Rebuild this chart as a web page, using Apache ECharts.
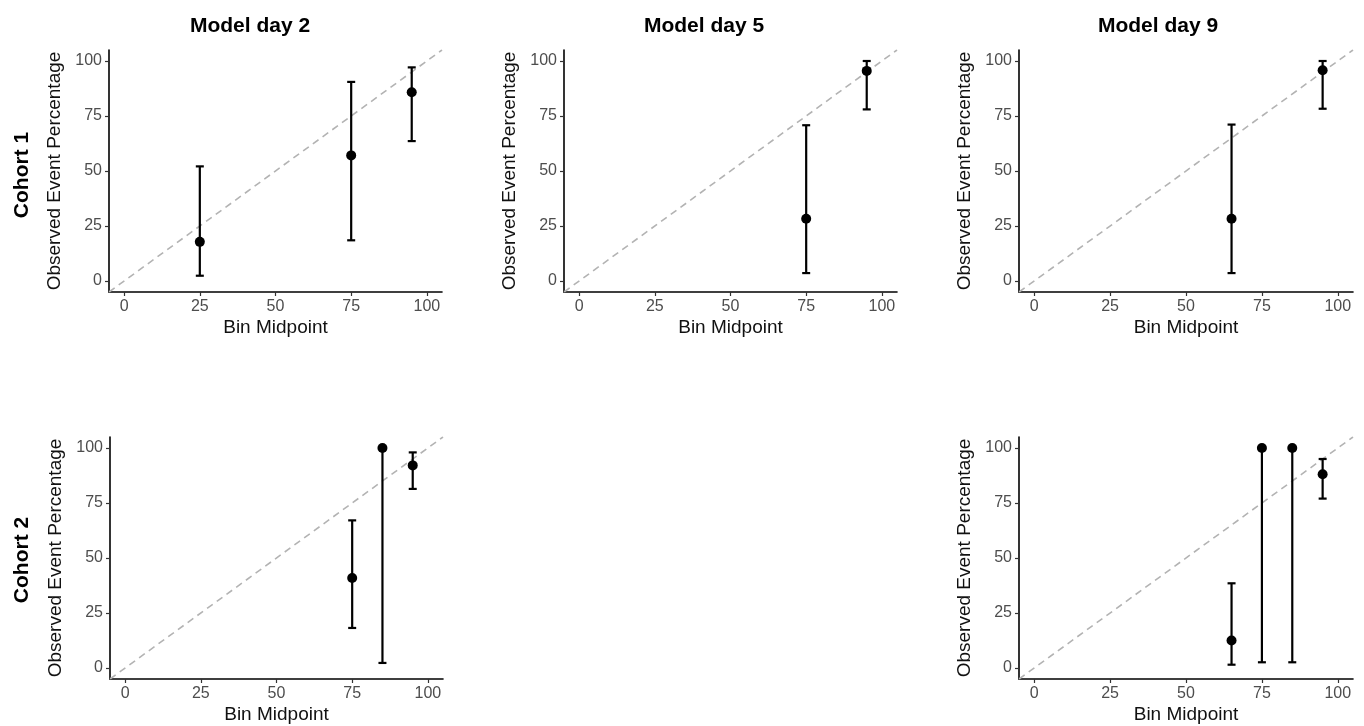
<!DOCTYPE html>
<html>
<head>
<meta charset="utf-8">
<script src="https://cdn.jsdelivr.net/npm/echarts@6/dist/echarts.min.js"></script>
<style>
html,body{margin:0;padding:0;background:#fff;}
#chart{width:1364px;height:726px;}
</style>
</head>
<body>
<div id="chart"></div>
<script>
// ---- Data ----
const colTitles = ['Model day 2', 'Model day 5', 'Model day 9'];
const rowTitles = ['Cohort 1', 'Cohort 2'];
const tickValues = [0, 25, 50, 75, 100];
const xAxisTitle = 'Bin Midpoint';
const yAxisTitle = 'Observed Event Percentage';

// Cohort 1, Model day 2
const c1d2_x  = [25, 75, 95];
const c1d2_y  = [17.8, 57.1, 85.8];
const c1d2_lo = [2.4, 18.5, 63.6];
const c1d2_hi = [52.1, 90.5, 97.1];

// Cohort 1, Model day 5
const c1d5_x  = [75, 95];
const c1d5_y  = [28.3, 95.5];
const c1d5_lo = [3.6, 78.0];
const c1d5_hi = [70.8, 100];

// Cohort 1, Model day 9
const c1d9_x  = [65, 95];
const c1d9_y  = [28.3, 95.8];
const c1d9_lo = [3.6, 78.3];
const c1d9_hi = [71.1, 100];

// Cohort 2, Model day 2
const c2d2_x  = [75, 85, 95];
const c2d2_y  = [40.9, 100, 92.1];
const c2d2_lo = [18.2, 2.3, 81.4];
const c2d2_hi = [67.1, 100, 98.0];

// Cohort 2, Model day 9
const c2d9_x  = [65, 75, 85, 95];
const c2d9_y  = [12.5, 100, 100, 88.1];
const c2d9_lo = [1.5, 2.6, 2.6, 77.0];
const c2d9_hi = [38.5, 100, 100, 95.0];

const diagonal = [[-5, -5], [105, 105]];

// ---- Layout ----
const FONT = '"Liberation Sans", Arial, sans-serif';
const panels = [
  {x: c1d2_x, y: c1d2_y, lo: c1d2_lo, hi: c1d2_hi, grid: {left: 109, top: 50, width: 333, height: 242}},
  {x: c1d5_x, y: c1d5_y, lo: c1d5_lo, hi: c1d5_hi, grid: {left: 564, top: 50, width: 333, height: 242}},
  {x: c1d9_x, y: c1d9_y, lo: c1d9_lo, hi: c1d9_hi, grid: {left: 1019, top: 50, width: 334, height: 242}},
  {x: c2d2_x, y: c2d2_y, lo: c2d2_lo, hi: c2d2_hi, grid: {left: 110, top: 437, width: 333, height: 242}},
  {x: c2d9_x, y: c2d9_y, lo: c2d9_lo, hi: c2d9_hi, grid: {left: 1019, top: 437, width: 334, height: 242}}
];

const grids = [], xAxes = [], yAxes = [], series = [];
panels.forEach((p, i) => {
  grids.push(Object.assign({containLabel: false}, p.grid));
  const common = {
    type: 'value', gridIndex: i, min: -5, max: 105,
    splitLine: {show: false},
    axisLine: {show: true, onZero: false, lineStyle: {color: '#000', width: 1.6}},
    axisTick: {show: true, length: 4, customValues: tickValues, lineStyle: {color: '#333', width: 1.2}},
    axisLabel: {show: true, customValues: tickValues, color: '#4d4d4d', fontSize: 16, fontFamily: FONT, margin: 7},
    nameLocation: 'middle',
    nameTextStyle: {color: '#111', fontSize: 19, fontFamily: FONT}
  };
  xAxes.push(Object.assign({}, common, {name: xAxisTitle, nameGap: 26}));
  yAxes.push(Object.assign({}, common, {name: yAxisTitle, nameGap: 45}));

  series.push({
    type: 'line', xAxisIndex: i, yAxisIndex: i, data: diagonal,
    symbol: 'none', silent: true, z: 1,
    lineStyle: {color: '#b3b3b3', width: 1.6, type: [7, 5]}
  });
  const ebData = p.x.map((xv, k) => [xv, p.lo[k], p.hi[k]]);
  series.push({
    type: 'custom', xAxisIndex: i, yAxisIndex: i, data: ebData, z: 2, silent: true,
    encode: {x: 0, y: [1, 2]},
    renderItem: function (params, api) {
      const xv = api.value(0), lo = api.value(1), hi = api.value(2);
      const a = api.coord([xv, lo]), b = api.coord([xv, hi]);
      const hw = 4;
      const st = {stroke: '#000', lineWidth: 2.2};
      return {type: 'group', children: [
        {type: 'line', shape: {x1: a[0], y1: a[1], x2: b[0], y2: b[1]}, style: st},
        {type: 'line', shape: {x1: a[0] - hw, y1: a[1], x2: a[0] + hw, y2: a[1]}, style: st},
        {type: 'line', shape: {x1: b[0] - hw, y1: b[1], x2: b[0] + hw, y2: b[1]}, style: st}
      ]};
    }
  });
  series.push({
    type: 'scatter', xAxisIndex: i, yAxisIndex: i, z: 3, silent: true,
    data: p.x.map((xv, k) => [xv, p.y[k]]),
    symbol: 'circle', symbolSize: 10,
    itemStyle: {color: '#000', opacity: 1}
  });
});

const graphics = [
  {type: 'text', x: 250, y: 26, style: {text: colTitles[0], font: 'bold 21px ' + FONT, fill: '#000', align: 'center', verticalAlign: 'middle'}},
  {type: 'text', x: 704, y: 26, style: {text: colTitles[1], font: 'bold 21px ' + FONT, fill: '#000', align: 'center', verticalAlign: 'middle'}},
  {type: 'text', x: 1158, y: 26, style: {text: colTitles[2], font: 'bold 21px ' + FONT, fill: '#000', align: 'center', verticalAlign: 'middle'}},
  {type: 'text', x: 22, y: 175, rotation: Math.PI / 2, style: {text: rowTitles[0], font: 'bold 21px ' + FONT, fill: '#000', align: 'center', verticalAlign: 'middle'}},
  {type: 'text', x: 22, y: 560, rotation: Math.PI / 2, style: {text: rowTitles[1], font: 'bold 21px ' + FONT, fill: '#000', align: 'center', verticalAlign: 'middle'}}
];

const chart = echarts.init(document.getElementById('chart'), null, {renderer: 'canvas'});
chart.setOption({
  animation: false,
  backgroundColor: '#fff',
  grid: grids,
  xAxis: xAxes,
  yAxis: yAxes,
  series: series,
  graphic: graphics
});
</script>
</body>
</html>
